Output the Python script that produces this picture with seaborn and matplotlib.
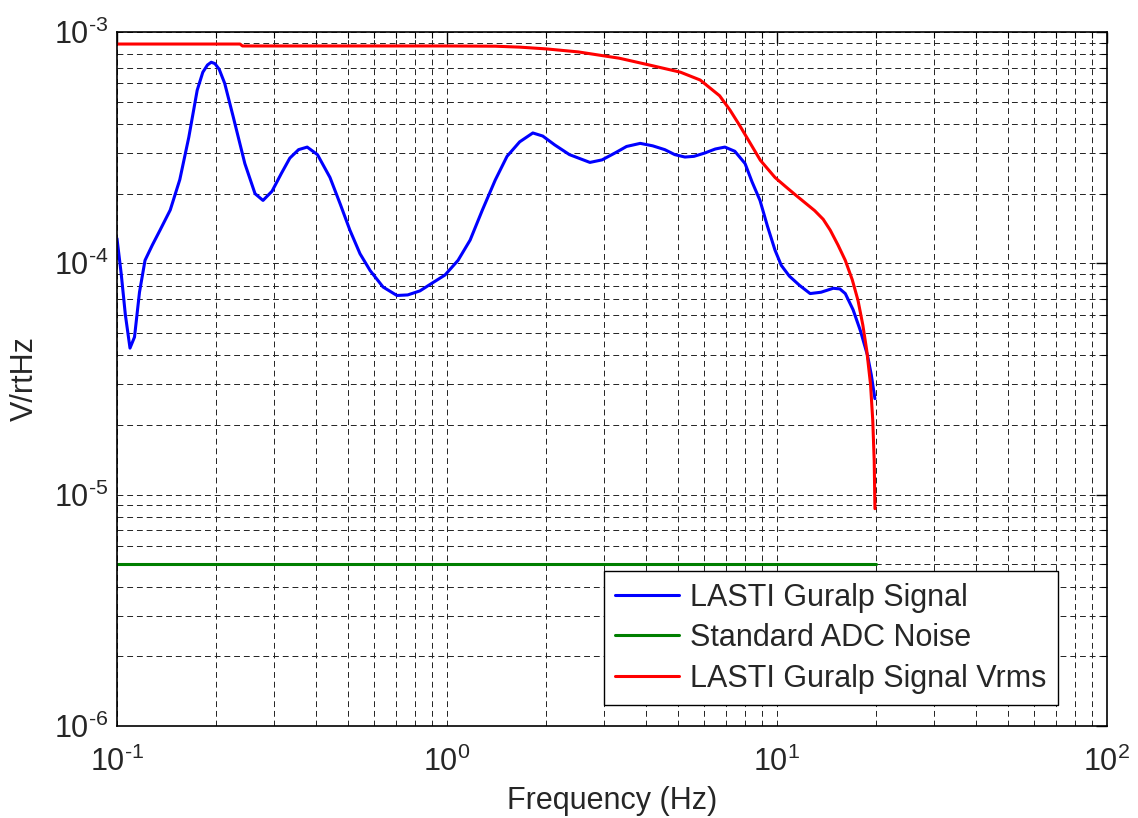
import numpy as np
import pandas as pd
import seaborn as sns
import matplotlib.pyplot as plt
from matplotlib.ticker import LogLocator, NullFormatter, FuncFormatter

# values
signal_freq = [0.1, 0.103, 0.106, 0.1095, 0.113, 0.117, 0.1216, 0.128, 0.135, 0.145, 0.155,
               0.165, 0.175, 0.182, 0.188, 0.193, 0.198, 0.204, 0.212, 0.225, 0.244, 0.262,
               0.277, 0.295, 0.315, 0.334, 0.355, 0.377, 0.405, 0.442, 0.475, 0.508, 0.545,
               0.585, 0.64, 0.705, 0.76, 0.828, 0.9, 0.986, 1.08, 1.175, 1.28, 1.4, 1.52,
               1.66, 1.82, 1.95, 2.12, 2.35, 2.71, 2.95, 3.23, 3.5, 3.85, 4.2, 4.57, 4.9,
               5.26, 5.6, 6.05, 6.5, 6.95, 7.45, 8.0, 8.4, 8.88, 9.35, 9.86, 10.3, 10.9,
               11.7, 12.6, 13.6, 14.8, 15.5, 16.1, 17.0, 17.9, 18.8, 19.3, 19.8]
signal_vals = [1.28e-4, 9.0e-5, 6.0e-5, 4.3e-5, 4.8e-5, 7.5e-5, 1.03e-4, 1.2e-4, 1.39e-4,
               1.7e-4, 2.3e-4, 3.5e-4, 5.6e-4, 6.7e-4, 7.2e-4, 7.4e-4, 7.3e-4, 6.9e-4,
               6.0e-4, 4.3e-4, 2.7e-4, 2.0e-4, 1.87e-4, 2.05e-4, 2.45e-4, 2.85e-4, 3.1e-4,
               3.18e-4, 2.95e-4, 2.35e-4, 1.8e-4, 1.39e-4, 1.1e-4, 9.3e-5, 7.9e-5, 7.26e-5,
               7.3e-5, 7.6e-5, 8.2e-5, 8.9e-5, 1.03e-4, 1.26e-4, 1.7e-4, 2.29e-4, 2.9e-4,
               3.35e-4, 3.66e-4, 3.55e-4, 3.25e-4, 2.95e-4, 2.73e-4, 2.8e-4, 3.0e-4,
               3.2e-4, 3.3e-4, 3.22e-4, 3.1e-4, 2.95e-4, 2.88e-4, 2.9e-4, 3.0e-4, 3.12e-4,
               3.18e-4, 3.05e-4, 2.7e-4, 2.25e-4, 1.87e-4, 1.45e-4, 1.14e-4, 9.8e-5,
               8.8e-5, 8.03e-5, 7.4e-5, 7.5e-5, 7.8e-5, 7.75e-5, 7.4e-5, 6.3e-5, 5.1e-5,
               4.0e-5, 3.3e-5, 2.6e-5]

adc_freq = [0.1, 20.0]
adc_vals = [5.0e-6, 5.0e-6]

vrms_freq = [0.1, 0.236, 0.24, 0.5, 1.0, 1.4, 1.66, 2.0, 2.5, 3.33, 4.1, 5.1, 5.85, 6.7,
             7.2, 7.7, 8.3, 8.9, 9.86, 10.6, 11.4, 12.2, 13.0, 13.8, 14.5, 15.3, 16.1,
             16.9, 17.6, 18.2, 18.7, 19.2, 19.5, 19.7, 19.8]
vrms_vals = [8.87e-4, 8.87e-4, 8.7e-4, 8.7e-4, 8.7e-4, 8.68e-4, 8.6e-4, 8.45e-4, 8.2e-4,
             7.7e-4, 7.2e-4, 6.7e-4, 6.2e-4, 5.3e-4, 4.6e-4, 3.95e-4, 3.3e-4, 2.79e-4,
             2.35e-4, 2.15e-4, 1.97e-4, 1.82e-4, 1.69e-4, 1.55e-4, 1.39e-4, 1.2e-4,
             1.03e-4, 8.5e-5, 6.9e-5, 5.4e-5, 4.2e-5, 3.0e-5, 2.1e-5, 1.4e-5, 8.7e-6]

labels = ["LASTI Guralp Signal", "Standard ADC Noise", "LASTI Guralp Signal Vrms"]
colors = ["#0000ff", "#007f00", "#ff0000"]

sns.set_style("white")
plt.rcParams["font.family"] = ["Liberation Sans", "DejaVu Sans"]
plt.rcParams["mathtext.fontset"] = "custom"
plt.rcParams["mathtext.rm"] = "Liberation Sans"
plt.rcParams["mathtext.it"] = "Liberation Sans"

fig = plt.figure(figsize=(11.38, 8.18), dpi=100)
ax = fig.add_axes([0.1028, 0.1125, 0.870, 0.8484])

series = [(signal_freq, signal_vals), (adc_freq, adc_vals), (vrms_freq, vrms_vals)]
for (f, v), lab, c in zip(series, labels, colors):
    df = pd.DataFrame({"freq": f, "val": v})
    sns.lineplot(data=df, x="freq", y="val", ax=ax, color=c, lw=2.2, label=lab,
                 sort=False, estimator=None)

ax.set_xscale("log")
ax.set_yscale("log")
ax.set_xlim(0.1, 100)
ax.set_ylim(1e-6, 1e-3)


def matlab_pow(val, pos):
    # MATLAB style: plain hyphen in the exponent
    e = int(round(np.log10(val)))
    return r"$\mathregular{10^{\text{%s}}}$" % ("-%d" % -e if e < 0 else "%d" % e)


for axis in (ax.xaxis, ax.yaxis):
    axis.set_major_locator(LogLocator(base=10, numticks=10))
    axis.set_major_formatter(FuncFormatter(matlab_pow))
    axis.set_minor_locator(LogLocator(base=10, subs=np.arange(2, 10), numticks=20))
    axis.set_minor_formatter(NullFormatter())

ax.grid(True, which="both", ls=(0, (6, 4)), color="#222222", lw=0.7)
ax.tick_params(which="both", direction="in", top=True, right=True, labelsize=22,
               color="black")
ax.tick_params(which="major", length=8, width=1)
ax.tick_params(which="minor", length=4, width=0.8)
ax.tick_params(axis="x", pad=15)
ax.tick_params(axis="y", pad=6)
for s in ax.spines.values():
    s.set_color("black")
    s.set_linewidth(1.2)

ax.set_xlabel("Frequency (Hz)", fontsize=22, labelpad=6)
ax.set_ylabel("V/rtHz", fontsize=22, labelpad=10)

leg = ax.legend(loc="lower right", bbox_to_anchor=(0.9505, 0.030), borderaxespad=0,
                fontsize=22, fancybox=False, framealpha=1, edgecolor="black",
                handlelength=2.1, handletextpad=0.35, labelspacing=0.34,
                borderpad=0.38)
leg.get_frame().set_linewidth(1.0)

fig.savefig("out.png", dpi=100)
